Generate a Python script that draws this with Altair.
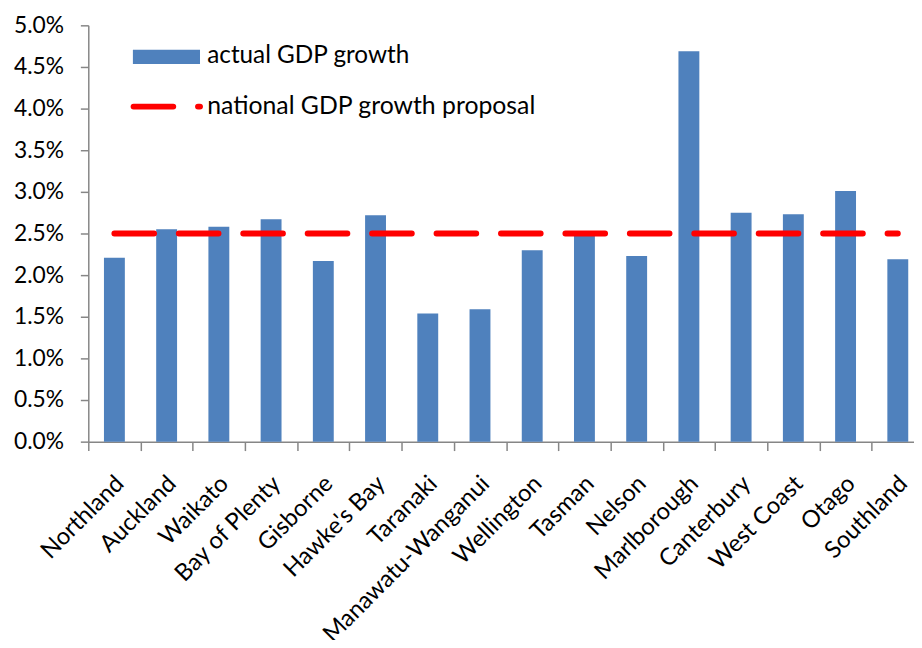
import altair as alt
import pandas as pd

# ---- data ----
regions = [
    "Northland", "Auckland", "Waikato", "Bay of Plenty", "Gisborne", "Hawke's Bay",
    "Taranaki", "Manawatu-Wanganui", "Wellington", "Tasman", "Nelson", "Marlborough",
    "Canterbury", "West Coast", "Otago", "Southland",
]
actual_growth_pct = [2.21, 2.55, 2.58, 2.67, 2.17, 2.72, 1.54, 1.59,
                     2.30, 2.50, 2.23, 4.69, 2.75, 2.73, 3.01, 2.19]
national_proposal_pct = [2.5, 2.5, 2.5, 2.5, 2.5, 2.5, 2.5, 2.5,
                         2.5, 2.5, 2.5, 2.5, 2.5, 2.5, 2.5, 2.5]
y_tick_pct = [0.0, 0.5, 1.0, 1.5, 2.0, 2.5, 3.0, 3.5, 4.0, 4.5, 5.0]
legend_labels = ["actual GDP growth", "national GDP growth proposal"]

BLUE = "#4F81BD"
RED = "#FF0000"
GREY = "#868686"
FONT = "Lato"

df = pd.DataFrame({
    "region": regions,
    "growth": [v / 100 for v in actual_growth_pct],
    "proposal": [v / 100 for v in national_proposal_pct],
})

x_enc = alt.X(
    "region:N", sort=regions,
    scale=alt.Scale(range=[0, 843], paddingInner=0, paddingOuter=0),
    axis=alt.Axis(title=None, labelAngle=-45, labelAlign="right", labelBaseline="top",
                  tickBand="extent", tickSize=9, labelPadding=21, labelOffset=-3, labelLimit=0,
                  labelFont=FONT, labelFontSize=24, labelColor="black",
                  domainColor=GREY, tickColor=GREY, domainWidth=1.5, tickWidth=1.5),
)
y_scale = alt.Scale(domain=[0, 0.05], nice=False, zero=True)
y_axis = alt.Axis(title=None, values=[v / 100 for v in y_tick_pct], format=".1%", grid=False,
                  tickSize=8, labelPadding=17, domainColor=GREY, tickColor=GREY,
                  labelFont=FONT, labelFontSize=23, labelColor="black",
                  domainWidth=1.5, tickWidth=1.5)

bars = alt.Chart(df).mark_bar(color=BLUE, width=alt.RelativeBandSize(0.4)).encode(
    x=x_enc,
    y=alt.Y("growth:Q", scale=y_scale, axis=y_axis),
)

line = alt.Chart(df).mark_line(color=RED, strokeWidth=6, strokeDash=[40, 25], strokeCap="round").encode(
    x=alt.X("region:N", sort=regions),
    y=alt.Y("proposal:Q"),
)

leg1 = pd.DataFrame({"label": [legend_labels[0]]})
leg2 = pd.DataFrame({"label": [legend_labels[1]]})

leg_rect = alt.Chart(leg1).mark_rect(color=BLUE).encode(
    x=alt.value(45), x2=alt.value(112.7), y=alt.value(24.6), y2=alt.value(39),
)
leg_text1 = alt.Chart(leg1).mark_text(align="left", baseline="middle", font=FONT, fontSize=24.5,
                                      color="black").encode(
    x=alt.value(120), y=alt.value(31), text="label:N",
)
leg_rule = alt.Chart(leg2).mark_rule(color=RED, strokeWidth=6, strokeDash=[40, 25],
                                     strokeCap="round").encode(
    x=alt.value(45.7), x2=alt.value(112.7), y=alt.value(82),
)
leg_text2 = alt.Chart(leg2).mark_text(align="left", baseline="middle", font=FONT, fontSize=25,
                                      color="black").encode(
    x=alt.value(120), y=alt.value(81.5), text="label:N",
)

chart = alt.layer(bars, line, leg_rect, leg_text1, leg_rule, leg_text2).properties(
    width=833,
    height=420,
    background="white",
    autosize=alt.AutoSizeParams(type="none"),
    padding={"left": 81, "top": 14.7, "right": 0, "bottom": 197},
).configure_view(stroke=None)

chart.save("out.html", embed_options={"renderer": "svg", "actions": False})
